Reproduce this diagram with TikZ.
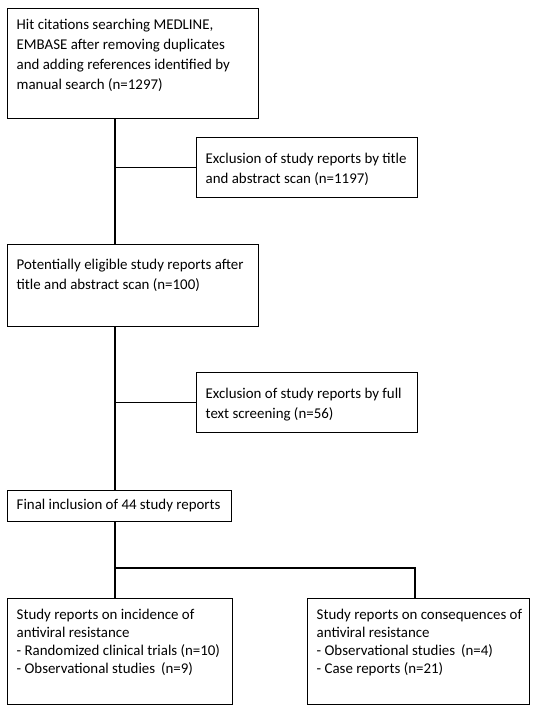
\documentclass[tikz,border=0pt]{standalone}
\usepackage{fontspec}
\setmainfont{Carlito}
\usetikzlibrary{positioning}

% box body: width, height, gap above first line, text
\newcommand{\boxbody}[4]{\parbox[c][#2][t]{#1}{\hfuzz=300pt\hbadness=10000
  \rightskip=0pt minus 200pt\vspace*{#3}#4}}

\begin{document}
\begin{tikzpicture}[
  x=1pt, y=-1pt,
  box/.style  = {draw, line width=1.4pt, anchor=north west, inner xsep=9pt, inner ysep=0pt, align=left,
                 font=\fontsize{14.9}{20}\selectfont},
  tight/.style = {font=\fontsize{14.9}{18}\selectfont},
  line/.style = {line width=1.4pt}
]
\useasboundingbox (0,0) rectangle (537,713);

% Nodes
\node[box] (hits) at (7,8)
  {\boxbody{233pt}{110pt}{6.5pt}{\strut Hit citations searching MEDLINE,\\ EMBASE after removing duplicates\\ and adding references identified by\\ manual search (n=1297)}};
\node[box] (exclscan) at (196,137)
  {\boxbody{203pt}{60pt}{11.5pt}{\strut Exclusion of study reports by title\\ and abstract scan (n=1197)}};
\node[box] (eligible) at (7,244)
  {\boxbody{233pt}{82pt}{10.5pt}{\strut Potentially eligible study reports after\\ title and abstract scan (n=100)}};
\node[box] (exclfull) at (196,372)
  {\boxbody{203pt}{60pt}{11.5pt}{\strut Exclusion of study reports by full\\ text screening (n=56)}};
\node[box] (final) at (7,490)
  {\boxbody{206pt}{31pt}{4.5pt}{\strut Final inclusion of 44 study reports}};
\node[box, tight] (incidence) at (7,598)
  {\boxbody{207pt}{106pt}{8.5pt}{\strut Study reports on incidence of\\ antiviral resistance\\ - Randomized clinical trials (n=10)\\ - Observational studies\, (n=9)}};
\node[box, tight] (consequences) at (307,598)
  {\boxbody{204pt}{106pt}{8.5pt}{\strut Study reports on consequences of\\ antiviral resistance\\ - Observational studies\, (n=4)\\ - Case reports (n=21)}};

% Trunk and forks
\coordinate (trunk) at (115,0);
\coordinate (fork) at (115,568);
\coordinate (drop) at (415,0);

% Connections
\draw[line] (hits.south -| trunk) -- (eligible.north -| trunk);
\draw[line] (trunk |- exclscan.west) -- (exclscan.west);
\draw[line] (eligible.south -| trunk) -- (final.north -| trunk);
\draw[line] (trunk |- exclfull.west) -- (exclfull.west);
\draw[line] (final.south -| trunk) -- (incidence.north -| trunk);
\draw[line] (fork) -| (consequences.north -| drop);

\end{tikzpicture}
\end{document}
